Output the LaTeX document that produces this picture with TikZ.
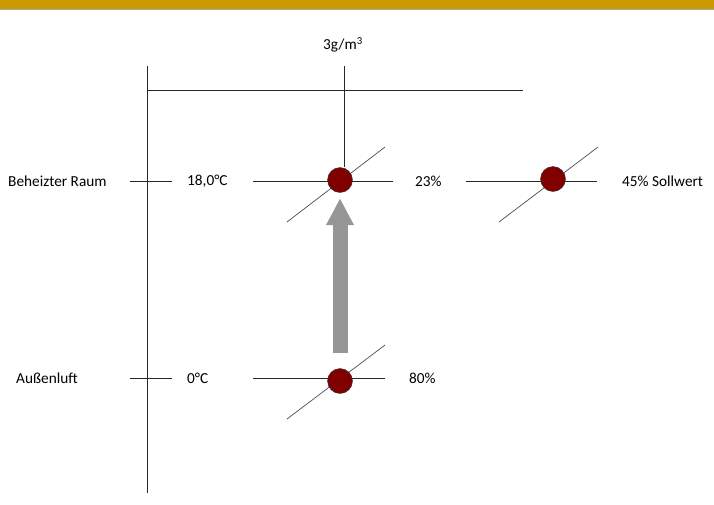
\documentclass[tikz,border=0pt]{standalone}
\usepackage{fontspec}
\setmainfont{Carlito}
\usetikzlibrary{arrows.meta,positioning,calc}
\definecolor{bargold}{RGB}{204,153,0}
\definecolor{dotred}{RGB}{128,0,0}
\definecolor{liftgray}{RGB}{150,150,150}

\begin{document}
\begin{tikzpicture}[x=1pt,y=-1pt,font=\fontsize{15.3}{18}\selectfont,
  axis/.style={draw=black!85,line width=0.8pt},
  slope/.style={draw=black!70,line width=0.7pt},
  state/.style={circle,draw=black!80,fill=dotred,minimum size=25pt,inner sep=0pt},
  lbl/.style={anchor=west,inner sep=0pt}]
\useasboundingbox (0,0) rectangle (714,504);
% header bar
\fill[bargold] (0,0) rectangle (714,9);
\draw[black!35] (0,9.5) -- (714,9.5);

% axes
\coordinate (ytop) at (147,66);
\coordinate (ybot) at (147,493);
\coordinate (xl) at (147,90);
\coordinate (xr) at (523,90);
\draw[axis] (ytop) -- (ybot);
\draw[axis] (xl) -- (xr);
\node (abs) at (343,45) {3g/m\textsuperscript{3}};
\coordinate (abstop) at (344,66);

% row labels
\node[lbl] (raumlbl) at (8,181) {Beheizter Raum};
\node[lbl] (aussenlbl) at (16,378) {Außenluft};
\coordinate (tick1l) at (130,181); \coordinate (tick1r) at (172,181);
\coordinate (tick2l) at (130,378); \coordinate (tick2r) at (172,378);
\draw[axis] (tick1l) -- (tick1r);
\draw[axis] (tick2l) -- (tick2r);

\node[lbl] (t1) at (187,181) {18,0°C};
\node[lbl] (t2) at (187,378) {0°C};
\node[lbl] (rh1) at (415,181) {23\%};
\node[lbl] (rh2) at (409,378) {80\%};
\node[lbl] (rhs) at (622,181) {45\% Sollwert};

% isotherm lines and slopes
\coordinate (raumpos) at (340,180);
\coordinate (sollpos) at (553,179);
\coordinate (aussenpos) at (340,381);
\draw[axis] (253,181) -- (393,181);
\draw[axis] (466,181) -- (597,181);
\draw[axis] (253,378) -- (385,378);
\draw[slope] ($(raumpos)+(-53,42)$) -- ($(raumpos)+(45,-33)$);
\draw[slope] ($(sollpos)+(-54,43)$) -- ($(sollpos)+(45,-32)$);
\draw[slope] ($(aussenpos)+(-53,38)$) -- ($(aussenpos)+(45,-36)$);

% states
\node[state] (raum) at (raumpos) {};
\node[state] (soll) at (sollpos) {};
\node[state] (aussen) at (aussenpos) {};
\draw[axis] (abstop) -- (abstop |- raum.north);

\draw[liftgray,line width=15pt,-{Triangle[width=26pt,length=27pt]},
  shorten <=15pt,shorten >=5.5pt] (aussen.north) -- (raum.south);
\end{tikzpicture}
\end{document}
